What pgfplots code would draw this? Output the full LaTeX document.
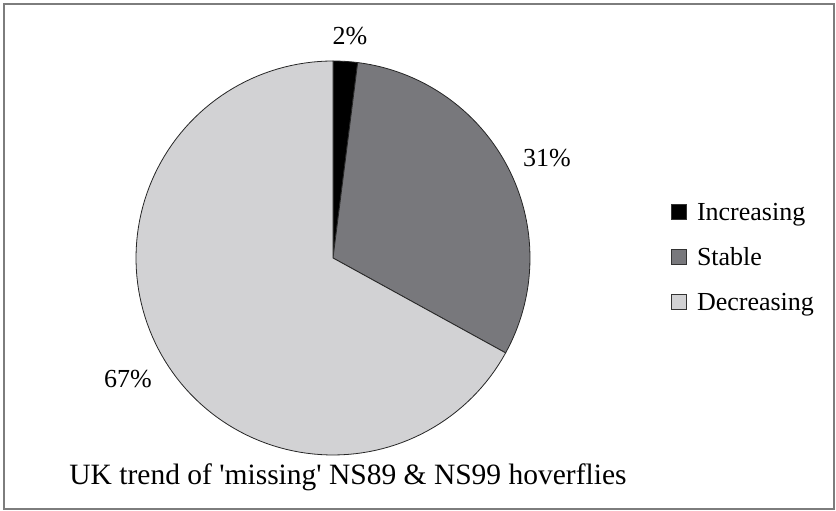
\documentclass[border=0pt]{standalone}
\usepackage{fontspec}
\setmainfont{Liberation Serif}
\usepackage{pgfplots}
\pgfplotsset{compat=1.18}
\definecolor{stablegray}{RGB}{120,120,124}
\definecolor{decgray}{RGB}{210,210,212}
\definecolor{framegray}{RGB}{125,125,125}
\begin{document}
\begin{tikzpicture}
\def\cx{333}\def\cy{253}\def\r{197}
% shares (percent)
\def\vInc{2}\def\vSta{31}\def\vDec{67}
\pgfmathsetmacro{\aA}{90}
\pgfmathsetmacro{\aB}{90-3.6*\vInc}
\pgfmathsetmacro{\aC}{\aB-3.6*\vSta}
\pgfmathsetmacro{\aD}{\aC-3.6*\vDec}
\begin{axis}[width=836pt,height=511pt,scale only axis,
  xmin=0,xmax=836,ymin=0,ymax=511,axis lines=none,clip=false,
  legend cell align=left,
  legend style={at={(axis cs:671,311)},anchor=north west,draw=none,fill=none,
    font=\fontsize{26}{30}\selectfont,row sep=18pt,inner sep=0pt,
    nodes={text height=19pt,text depth=6pt,inner sep=1pt},
    /tikz/every odd column/.append style={column sep=9pt}},
  legend image code/.code={\draw[#1,draw=black!80,line width=0.8pt] (0pt,-6pt) rectangle (15pt,9pt);}
]
\path (axis cs:0,0) rectangle (axis cs:836,511);
\draw[framegray,line width=2pt] (axis cs:4,2) rectangle (axis cs:834,507);
\addplot[fill=black,draw=black!85,line width=0.8pt,domain=\aA:\aB,samples=5,variable=\t]
  ({\cx+\r*cos(\t)},{\cy+\r*sin(\t)}) -- (axis cs:\cx,\cy) -- cycle;
\addlegendentry{Increasing}
\addplot[fill=stablegray,draw=black!85,line width=0.8pt,domain=\aB:\aC,samples=60,variable=\t]
  ({\cx+\r*cos(\t)},{\cy+\r*sin(\t)}) -- (axis cs:\cx,\cy) -- cycle;
\addlegendentry{Stable}
\addplot[fill=decgray,draw=black!85,line width=0.8pt,domain=\aC:\aD,samples=120,variable=\t]
  ({\cx+\r*cos(\t)},{\cy+\r*sin(\t)}) -- (axis cs:\cx,\cy) -- cycle;
\addlegendentry{Decreasing}
\node[anchor=base,font=\fontsize{26}{30}\selectfont] at (axis cs:350,466) {2\%};
\node[anchor=base,font=\fontsize{26}{30}\selectfont] at (axis cs:547,344) {31\%};
\node[anchor=base,font=\fontsize{26}{30}\selectfont] at (axis cs:128,123) {67\%};
\node[anchor=base,font=\fontsize{29.5}{33}\selectfont] at (axis cs:348,26) {UK trend of \textquotesingle missing\textquotesingle\ NS89 \& NS99 hoverflies};
\end{axis}
\end{tikzpicture}
\end{document}
